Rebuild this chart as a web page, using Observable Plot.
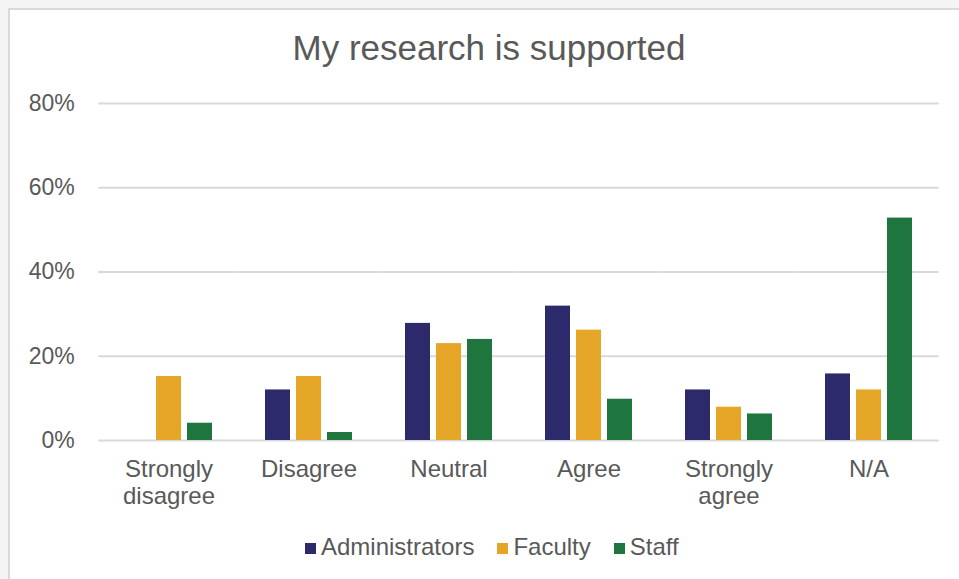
<!DOCTYPE html>
<html>
<head>
<meta charset="utf-8">
<script src="https://cdn.jsdelivr.net/npm/d3@7"></script>
<script src="https://cdn.jsdelivr.net/npm/@observablehq/plot@0.6"></script>
<style>
  html, body { margin: 0; padding: 0; background: #f4f4f4; width: 959px; height: 579px; overflow: hidden; }
  #frame { position: absolute; left: 8px; top: 8px; width: 951px; height: 571px; background: #fff;
           border-left: 2px solid #d9d9d9; border-top: 2px solid #d9d9d9; box-sizing: border-box; }
  #title { position: absolute; left: 0; top: 28px; width: 978px; text-align: center;
           font-family: "Liberation Sans", Arial, sans-serif; font-size: 35px; line-height: 40px; color: #595959; }
  #chart { position: absolute; left: 0; top: 0; }
  #legend { position: absolute; left: 305px; top: 533px; display: flex; align-items: center;
            font-family: "Liberation Sans", Arial, sans-serif; font-size: 24px; line-height: 28px; color: #595959; }
  .item { display: flex; align-items: center; margin-right: 23px; }
  .sw { width: 11px; height: 11px; margin-right: 5px; margin-top: 3px; }
</style>
</head>
<body>
<div id="frame"></div>
<div id="title">My research is supported</div>
<div id="chart"></div>
<div id="legend"></div>
<script>
const categories = ["Strongly disagree", "Disagree", "Neutral", "Agree", "Strongly agree", "N/A"];
const categoryLabels = ["Strongly\ndisagree", "Disagree", "Neutral", "Agree", "Strongly\nagree", "N/A"];
const series = ["Administrators", "Faculty", "Staff"];
const administrators = [0, 12.0, 27.8, 31.9, 12.0, 15.8];
const faculty = [15.2, 15.2, 23.0, 26.2, 7.9, 12.0];
const staff = [4.1, 1.9, 24.0, 9.8, 6.3, 52.8];
const yTicks = [0, 20, 40, 60, 80];
const colors = ["#2c2a6b", "#e5a527", "#1e763e"];

const valuesBySeries = [administrators, faculty, staff];
const table = [];
categories.forEach((c, i) => {
  series.forEach((s, j) => table.push({category: c, series: s, value: valuesBySeries[j][i]}));
});
const labelOf = new Map(categories.map((c, i) => [c, categoryLabels[i]]));

const W = 959, ML = 97, MR = 19;
const fxInner = 0.38, fxOuter = 0.19;
const step = (W - ML - MR) / (categories.length - fxInner + 2 * fxOuter);
const gridExtend = -step * fxInner / 2; // extend grid across the gap between groups

const chart = Plot.plot({
  width: W,
  height: 520,
  marginLeft: ML,
  marginRight: MR,
  marginTop: 103,
  marginBottom: 80,
  style: {fontFamily: "'Liberation Sans', Arial, sans-serif", color: "#595959", background: "transparent", overflow: "visible"},
  fx: {domain: categories, paddingInner: fxInner, paddingOuter: fxOuter, label: null},
  x: {domain: series, paddingInner: 0.2, paddingOuter: 0, axis: null},
  y: {domain: [0, 80], axis: null},
  color: {domain: series, range: colors},
  marks: [
    Plot.ruleY(yTicks, {stroke: "#d9d9d9", strokeWidth: 2, insetLeft: gridExtend, insetRight: gridExtend}),
    Plot.barY(table, {fx: "category", x: "series", y: "value", fill: "series"}),
    Plot.axisY(yTicks, {tickFormat: d => d + "%", tickSize: 0, tickPadding: 24 + fxOuter * step, fontSize: 23, label: null}),
    Plot.axisFx({anchor: "bottom", tickSize: 0, tickPadding: 18, fontSize: 24, lineHeight: 1.1, tickFormat: d => labelOf.get(d), label: null})
  ]
});
document.getElementById("chart").appendChild(chart);

const legend = document.getElementById("legend");
series.forEach((s, j) => {
  const item = document.createElement("div");
  item.className = "item";
  const sw = document.createElement("span");
  sw.className = "sw";
  sw.style.background = colors[j];
  const t = document.createElement("span");
  t.textContent = s;
  item.appendChild(sw);
  item.appendChild(t);
  legend.appendChild(item);
});
</script>
</body>
</html>
